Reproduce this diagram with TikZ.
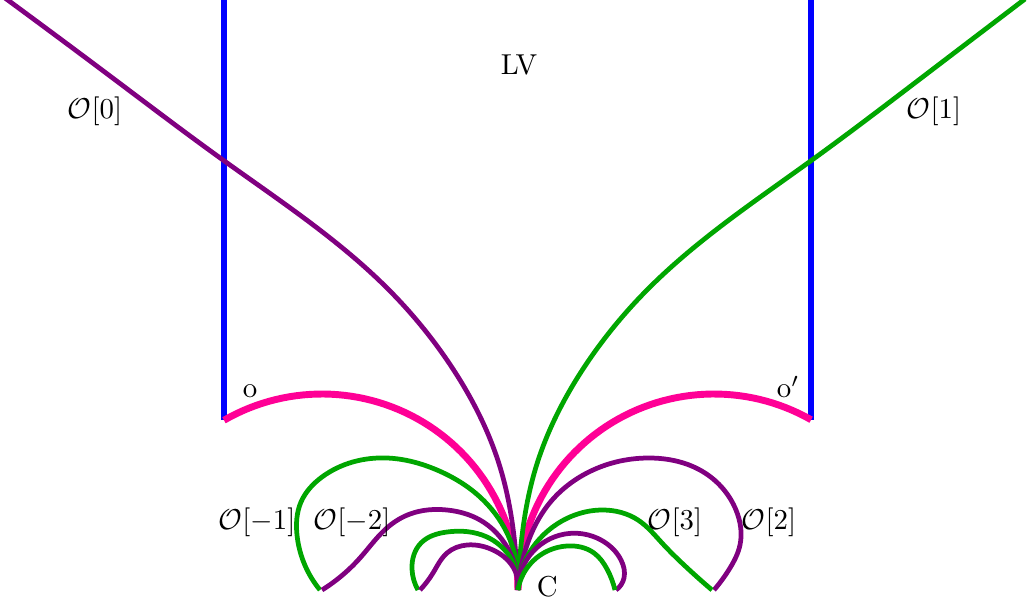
\documentclass[tikz,border=0pt]{standalone}
\usepackage{tikz}
\usetikzlibrary{hobby}

\definecolor{wallblue}{RGB}{0,0,255}
\definecolor{orbpurple}{RGB}{128,0,128}
\definecolor{orbgreen}{RGB}{0,166,0}
\definecolor{arcpink}{RGB}{255,0,150}

\begin{document}
\begin{tikzpicture}[x=0.122mm, y=-0.122mm,
    wall/.style={draw=wallblue, line width=2pt},
    circ/.style={draw=arcpink, line width=2.4pt},
    orbA/.style={draw=orbpurple, line width=1.65pt},
    orbB/.style={draw=orbgreen, line width=1.65pt}]
    \useasboundingbox (0,0) rectangle (1028,604);

    % Define the points
    \coordinate (o) at (224,420);
    \coordinate (o') at (811,420);
    \coordinate (C) at (518,590);
    \coordinate (ot) at (224,0);
    \coordinate (o't) at (811,0);

    % Walls of the domain
    \draw[wall] (ot) -- (o);
    \draw[wall] (o't) -- (o');

    % Bottom arcs through C
    \draw[circ] plot[domain=120:0, samples=60] ({322+196*cos(\x)},{590-196*sin(\x)});
    \draw[circ] plot[domain=180:60.3, samples=60] ({714+196*cos(\x)},{590-196*sin(\x)});

    % Long orbits
    \draw[orbA] (5,-2) to[curve through={(114,79) (223,160) (387,288) (453,369)
        (500,467) (517,570)}] (C);
    \draw[orbB] (1025,-1) to[curve through={(920,79) (812,160) (649,288) (583,369)
        (536,467) (519,570)}] (C);

    % Orbits on the left
    \draw[orbB] (320,590) to[curve through={(297,535) (301,502) (322,477) (387,458)
        (437,470) (480,497) (507,533)}] (C);
    \draw[orbA] (322,590) to[curve through={(360,558) (388,527) (410,514) (447,510)
        (480,520) (507,547)}] (C);
    \draw[orbB] (418,590) to[curve through={(412,569) (421,543) (447,532) (487,537)
        (510,557)}] (C);
    \draw[orbA] (420,590) to[curve through={(433,573) (447,553) (467,545) (493,550)
        (513,567)}] (C);

    % Orbits on the right
    \draw[orbA] (C) to[curve through={(527,545) (548,505) (585,474) (648,458)
        (705,473) (736,510) (740,545) (730,568)}] (714,590);
    \draw[orbB] (C) to[curve through={(527,557) (557,524) (603,510) (638,520)
        (662,543) (684,565)}] (712,590);
    \draw[orbA] (C) to[curve through={(530,555) (565,534) (601,540) (621,560)
        (624,578)}] (616,590);
    \draw[orbB] (C) to[curve through={(533,561) (567,546) (594,553) (607,569)}] (615,590);

    % Labels
    \node (lv) at (519,65) {LV};
    \node (n0) at (95,111) {$\mathcal{O}[0]$};
    \node (n1) at (934,111) {$\mathcal{O}[1]$};
    \node (nm1) at (257,522) {$\mathcal{O}[-1]$};
    \node (nm2) at (352,522) {$\mathcal{O}[-2]$};
    \node (n3) at (675,522) {$\mathcal{O}[3]$};
    \node (n2) at (769,522) {$\mathcal{O}[2]$};
    \node at (o) [anchor=south west, xshift=3pt, yshift=4pt] {o};
    \node at (o') [anchor=south east, xshift=-0.5pt, yshift=4pt] {o$'$};
    \node at (C) [anchor=west, xshift=3pt, yshift=1pt] {C};
\end{tikzpicture}
\end{document}
